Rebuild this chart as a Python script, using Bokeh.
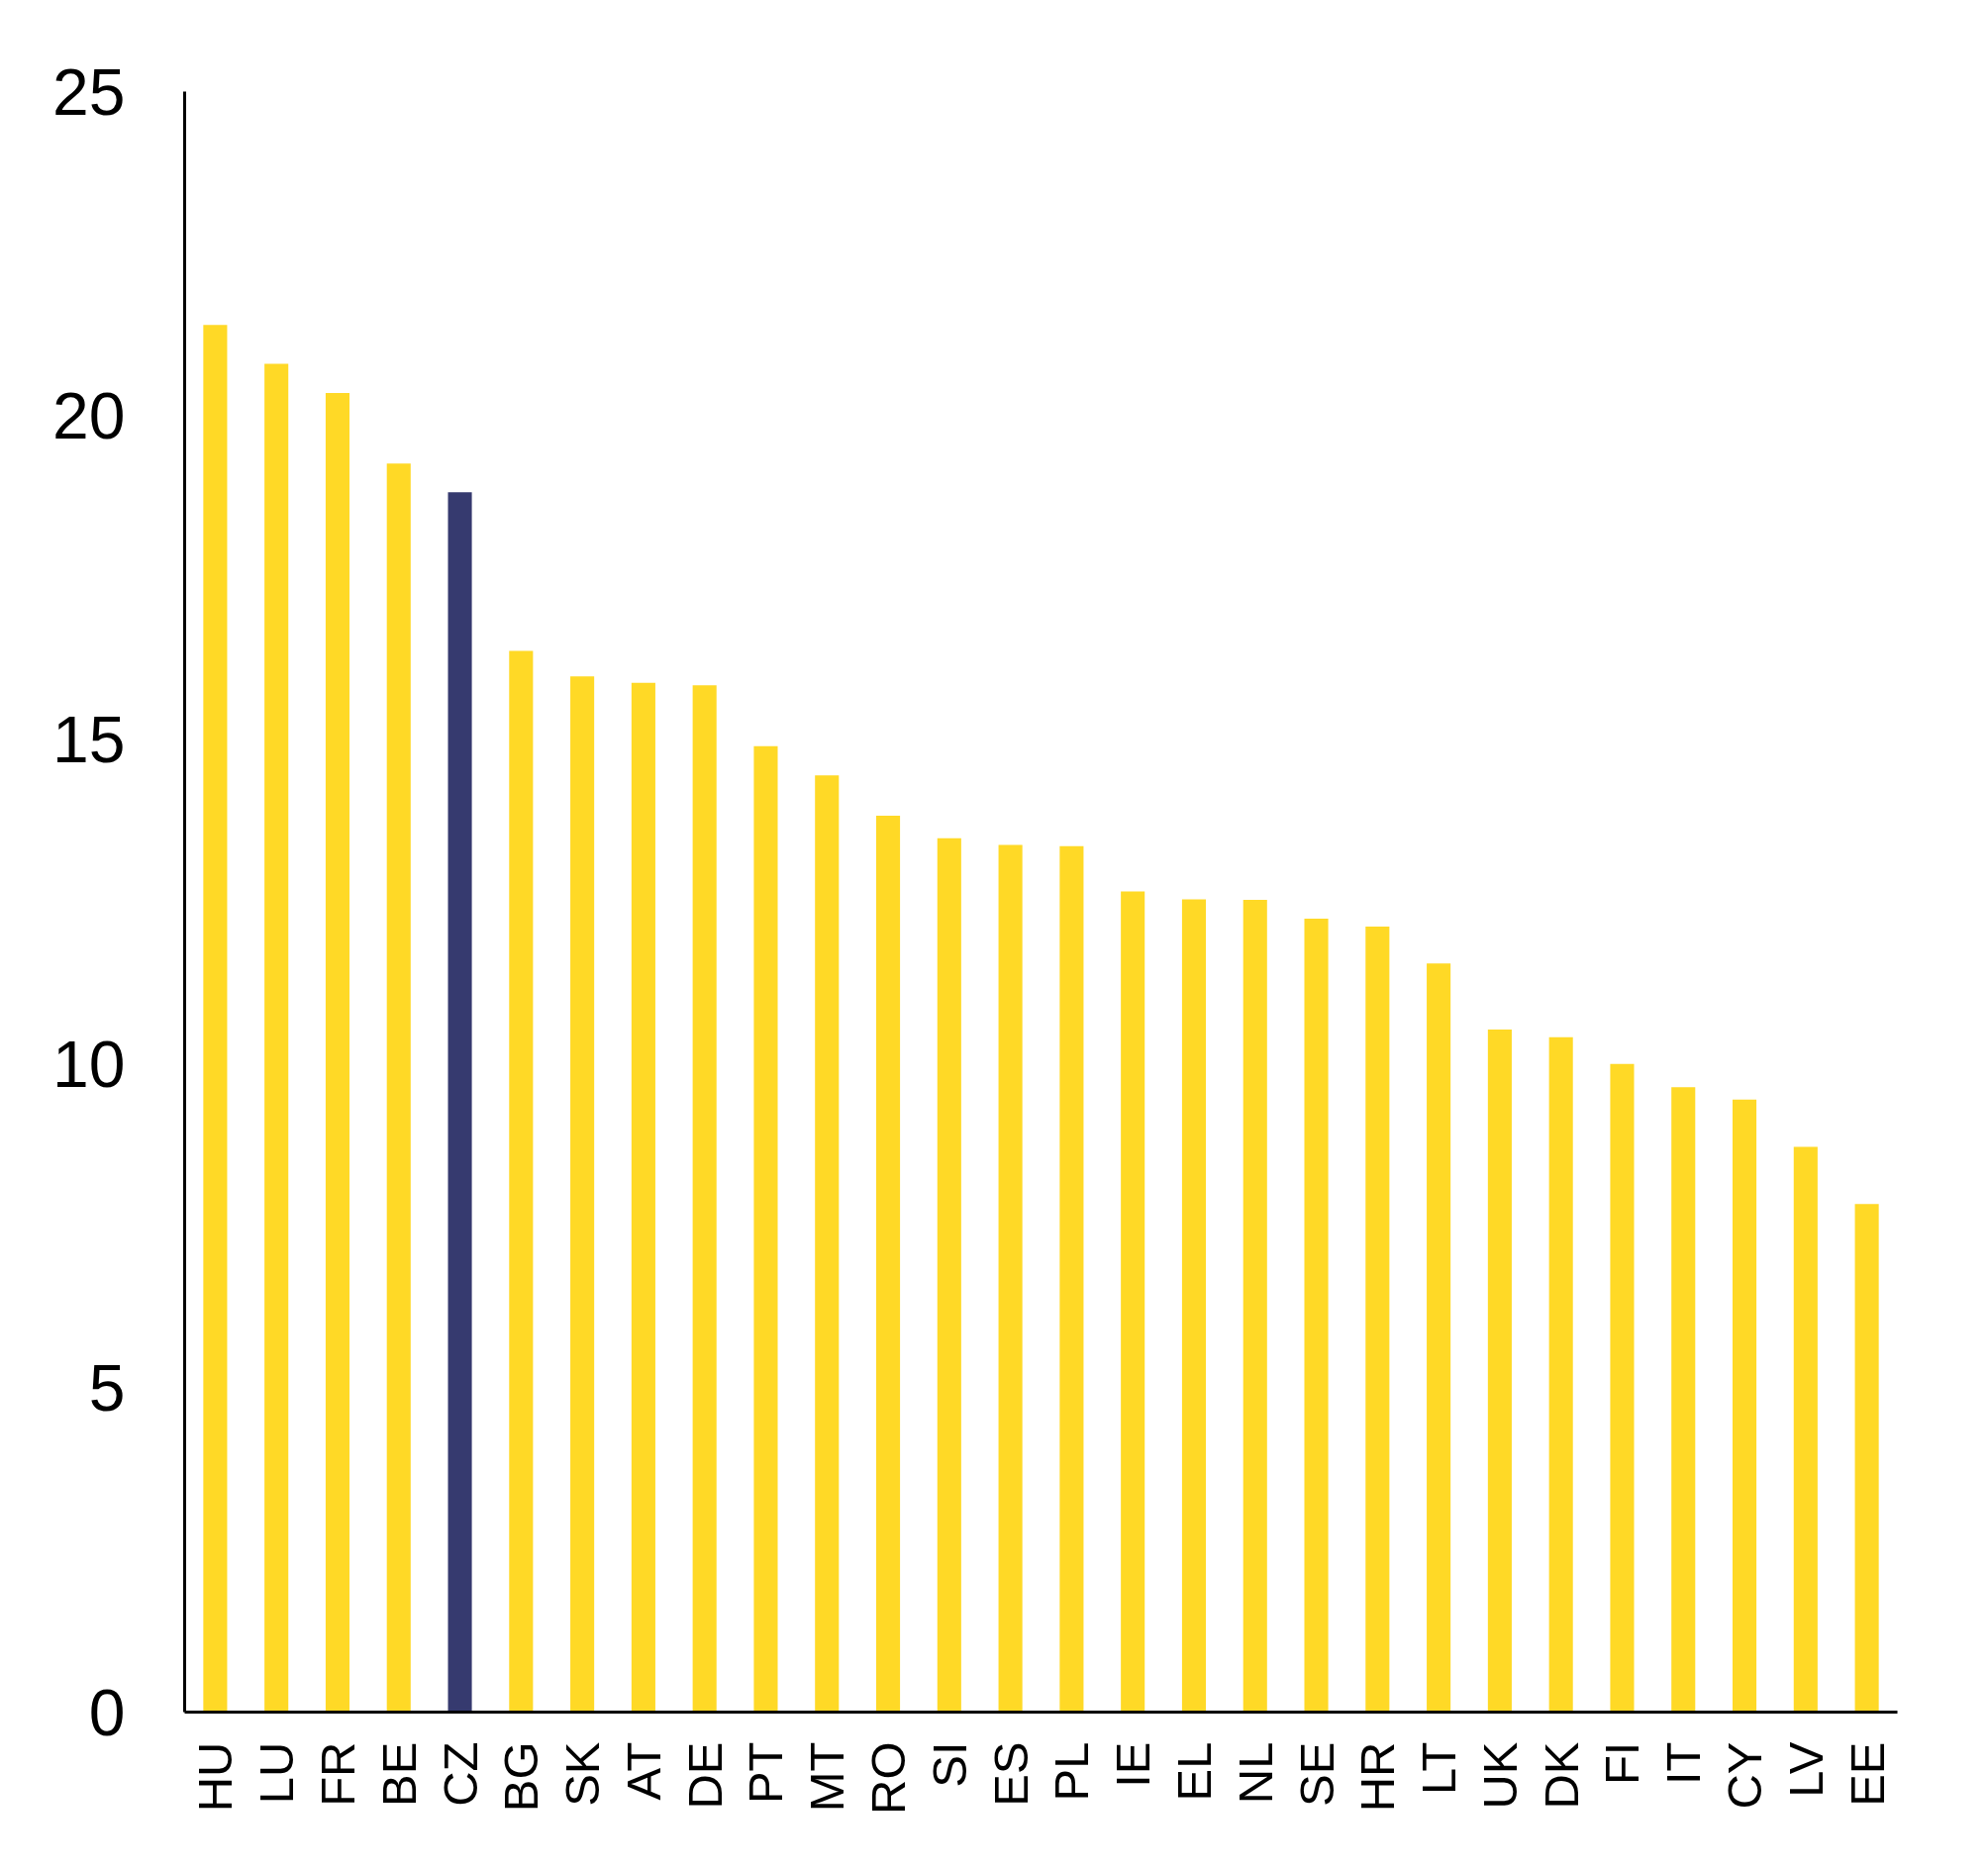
import math
from bokeh.plotting import figure
from bokeh.models import Range1d, FixedTicker
from bokeh.embed import file_html
from bokeh.resources import INLINE

countries = ["HU", "LU", "FR", "BE", "CZ", "BG", "SK", "AT", "DE", "PT", "MT", "RO", "SI", "ES",
             "PL", "IE", "EL", "NL", "SE", "HR", "LT", "UK", "DK", "FI", "IT", "CY", "LV", "EE"]
values = [21.40, 20.80, 20.35, 19.26, 18.82, 16.37, 15.98, 15.88, 15.84, 14.90, 14.45, 13.83, 13.48, 13.38,
          13.36, 12.66, 12.54, 12.53, 12.24, 12.12, 11.55, 10.53, 10.41, 10.00, 9.64, 9.45, 8.72, 7.84]
highlight = "CZ"
y_ticks = [0, 5, 10, 15, 20, 25]

YELLOW = "#FFD926"
NAVY = "#363A6F"
colors = [NAVY if c == highlight else YELLOW for c in countries]

W, H = 2000, 1881
p = figure(width=W, height=H, x_range=countries, y_range=Range1d(0, 25),
           output_backend="svg", toolbar_location=None,
           min_border_left=186, min_border_right=84, min_border_top=92, min_border_bottom=152)
p.x_range.range_padding = 0
p.vbar(x=countries, top=values, width=0.39, color=colors, line_color=None)

p.outline_line_color = None
p.xgrid.grid_line_color = None
p.ygrid.grid_line_color = None
p.background_fill_color = "white"
p.border_fill_color = "white"

FONT = "Liberation Sans"
yax = p.yaxis[0]
yax.ticker = FixedTicker(ticks=y_ticks)
yax.axis_line_width = 3
yax.axis_line_color = "black"
yax.major_tick_line_color = None
yax.minor_tick_line_color = None
yax.major_tick_out = 0
yax.major_tick_in = 0
yax.major_label_standoff = 60
yax.major_label_text_font = FONT
yax.major_label_text_font_size = "66px"
yax.major_label_text_color = "black"

xax = p.xaxis[0]
xax.axis_line_width = 3
xax.axis_line_color = "black"
xax.major_tick_line_color = None
xax.minor_tick_line_color = None
xax.major_tick_out = 0
xax.major_tick_in = 0
xax.major_label_orientation = math.pi / 2
xax.major_label_standoff = 30
xax.major_label_text_font = FONT
xax.major_label_text_font_size = "49px"
xax.major_label_text_color = "black"

open("out.html", "w").write(file_html(p, INLINE))
